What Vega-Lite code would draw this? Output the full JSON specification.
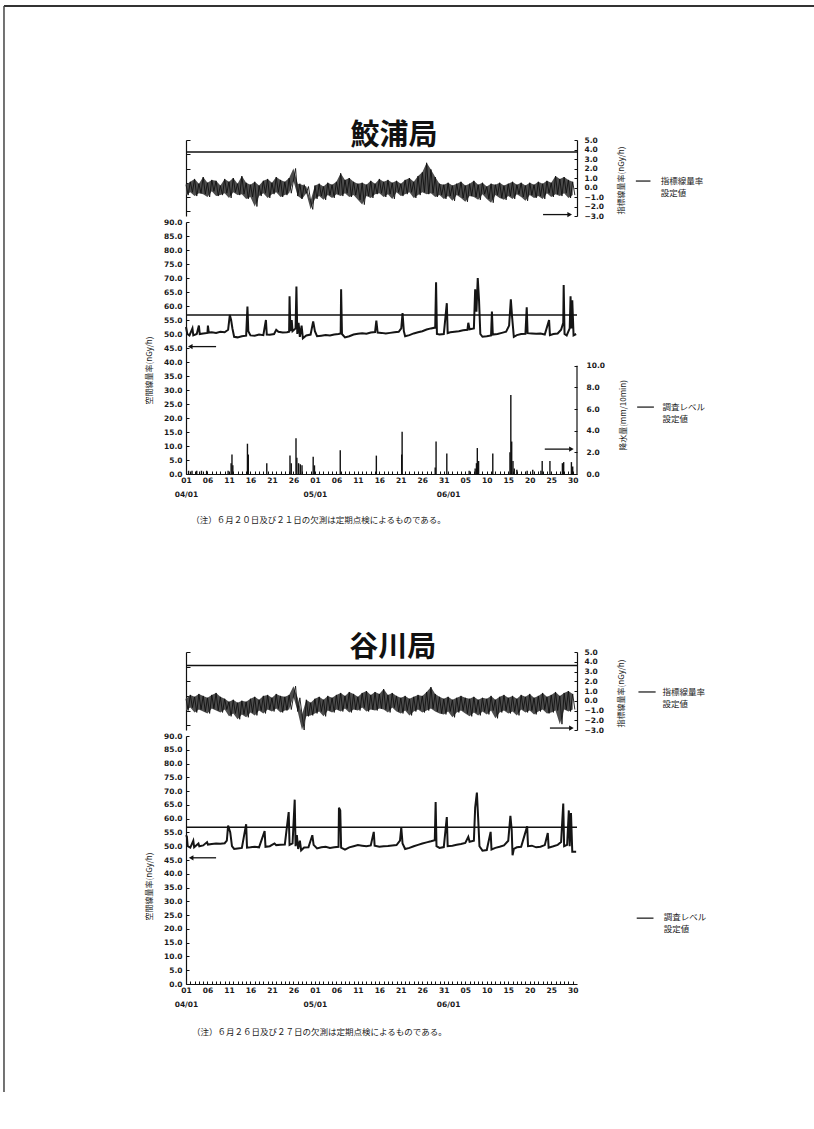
{
  "$schema": "https://vega.github.io/schema/vega-lite/v6.json",
  "background": "white",
  "padding": {"left": 2, "top": 5, "right": 0, "bottom": 0},
  "config": {
    "view": {"stroke": null},
    "axis": {"grid": false, "labelFlush": false, "domainColor": "#111", "tickColor": "#111", "labelColor": "#1a1a1a", "labelFont": "DejaVu Sans", "labelFontWeight": "bold", "labelFontSize": 7.5, "titleFont": "Noto Sans CJK JP", "titleFontSize": 8, "titleFontWeight": "normal", "titleColor": "#1a1a1a", "domainWidth": 1.2, "tickWidth": 1},
    "text": {"font": "Noto Sans CJK JP", "color": "#1a1a1a"}
  },
  "datasets": {
    "levels": [
      {"st": "鮫浦局", "idx": 3.74, "dose": 56.8},
      {"st": "谷川局", "idx": 3.62, "dose": 56.9}
    ],
    "s1_idx": [
      {"d":0,"v":0.3},{"d":0.5,"v":-0.8},{"d":1,"v":0.6},{"d":1.5,"v":-0.5},{"d":2,"v":0.9},{"d":2.5,"v":-0.9},{"d":3,"v":0.4},{"d":3.5,"v":-0.6},{"d":4,"v":1.1},{"d":4.5,"v":-0.7},
      {"d":5,"v":0.5},{"d":5.5,"v":-1.0},{"d":6,"v":0.8},{"d":6.5,"v":-0.4},{"d":7,"v":0.7},{"d":7.5,"v":-0.9},{"d":8,"v":0.2},{"d":8.5,"v":-0.8},{"d":9,"v":0.9},{"d":9.5,"v":-0.6},
      {"d":10,"v":0.6},{"d":10.5,"v":-1.1},{"d":11,"v":1.0},{"d":11.5,"v":-0.5},{"d":12,"v":0.4},{"d":12.5,"v":-0.8},{"d":13,"v":1.2},{"d":13.5,"v":-0.7},{"d":14,"v":0.5},{"d":14.5,"v":-1.2},
      {"d":15,"v":0.3},{"d":15.5,"v":-1.0},{"d":16,"v":0.6},{"d":16.5,"v":-2.0},{"d":17,"v":0.2},{"d":17.5,"v":-0.9},{"d":18,"v":0.7},{"d":18.5,"v":-0.6},{"d":19,"v":0.9},{"d":19.5,"v":-1.1},
      {"d":20,"v":0.5},{"d":20.5,"v":-0.7},{"d":21,"v":1.1},{"d":21.5,"v":-0.5},{"d":22,"v":0.8},{"d":22.5,"v":-1.0},{"d":23,"v":0.6},{"d":23.5,"v":-0.8},{"d":24,"v":1.0},{"d":24.5,"v":-0.6},
      {"d":25,"v":0.7},{"d":25.5,"v":2.0},{"d":26,"v":-0.9},{"d":26.5,"v":0.4},{"d":27,"v":-1.2},{"d":27.5,"v":0.3},{"d":28,"v":-0.6},{"d":28.5,"v":0.1},{"d":29,"v":-1.4},{"d":29.5,"v":-2.3},
      {"d":30,"v":0.2},{"d":30.5,"v":-1.2},{"d":31,"v":0.4},{"d":31.5,"v":-0.9},{"d":32,"v":0.1},{"d":32.5,"v":-1.3},{"d":33,"v":0.5},{"d":33.5,"v":-0.8},{"d":34,"v":0.3},{"d":34.5,"v":-1.1},
      {"d":35,"v":0.6},{"d":35.5,"v":-0.7},{"d":36,"v":1.5},{"d":36.5,"v":-0.9},{"d":37,"v":0.8},{"d":37.5,"v":-0.6},{"d":38,"v":1.0},{"d":38.5,"v":-1.0},{"d":39,"v":0.6},{"d":39.5,"v":-0.8},
      {"d":40,"v":0.4},{"d":40.5,"v":-1.3},{"d":41,"v":0.5},{"d":41.5,"v":-1.8},{"d":42,"v":0.3},{"d":42.5,"v":-0.9},{"d":43,"v":0.7},{"d":43.5,"v":-1.1},{"d":44,"v":0.4},{"d":44.5,"v":-0.7},
      {"d":45,"v":0.9},{"d":45.5,"v":-0.6},{"d":46,"v":0.6},{"d":46.5,"v":-1.0},{"d":47,"v":0.8},{"d":47.5,"v":-0.7},{"d":48,"v":0.5},{"d":48.5,"v":-1.2},{"d":49,"v":0.7},{"d":49.5,"v":-0.5},
      {"d":50,"v":0.4},{"d":50.5,"v":-0.9},{"d":51,"v":0.8},{"d":51.5,"v":-0.7},{"d":52,"v":1.0},{"d":52.5,"v":-0.5},{"d":53,"v":0.6},{"d":53.5,"v":-1.1},{"d":54,"v":1.2},{"d":54.5,"v":-0.8},
      {"d":55,"v":1.6},{"d":55.5,"v":-0.5},{"d":56,"v":2.6},{"d":56.5,"v":-0.7},{"d":57,"v":1.9},{"d":57.5,"v":-0.6},{"d":58,"v":1.1},{"d":58.5,"v":-1.0},{"d":59,"v":0.4},{"d":59.5,"v":-0.8},
      {"d":60,"v":0.3},{"d":60.5,"v":-1.2},{"d":61,"v":0.5},{"d":61.5,"v":-0.9},{"d":62,"v":0.2},{"d":62.5,"v":-1.4},{"d":63,"v":0.4},{"d":63.5,"v":-0.8},{"d":64,"v":0.6},{"d":64.5,"v":-1.1},
      {"d":65,"v":0.2},{"d":65.5,"v":-1.5},{"d":66,"v":0.4},{"d":66.5,"v":-0.9},{"d":67,"v":0.7},{"d":67.5,"v":-1.0},{"d":68,"v":0.3},{"d":68.5,"v":-1.3},{"d":69,"v":0.5},{"d":69.5,"v":-0.7},
      {"d":70,"v":0.1},{"d":70.5,"v":-1.2},{"d":71,"v":0.4},{"d":71.5,"v":-1.6},{"d":72,"v":0.3},{"d":72.5,"v":-0.8},{"d":73,"v":0.5},{"d":73.5,"v":-1.1},{"d":74,"v":0.2},{"d":74.5,"v":-1.3},
      {"d":75,"v":0.4},{"d":75.5,"v":-0.9},{"d":76,"v":0.6},{"d":76.5,"v":-1.2},{"d":77,"v":0.3},{"d":77.5,"v":-0.7},{"d":78,"v":0.5},{"d":78.5,"v":-1.0},{"d":79,"v":0.2},{"d":79.5,"v":-1.4},
      {"d":80,"v":0.5},{"d":80.5,"v":-0.8},{"d":81,"v":0.3},{"d":81.5,"v":-1.1},{"d":82,"v":0.6},{"d":82.5,"v":-0.9},{"d":83,"v":0.4},{"d":83.5,"v":-1.2},{"d":84,"v":0.7},{"d":84.5,"v":-0.6},
      {"d":85,"v":0.5},{"d":85.5,"v":-1.0},{"d":86,"v":1.2},{"d":86.5,"v":-0.7},{"d":87,"v":0.9},{"d":87.5,"v":-0.9},{"d":88,"v":1.1},{"d":88.5,"v":-0.6},{"d":89,"v":0.8},{"d":89.5,"v":-1.1},
      {"d":90,"v":0.6},{"d":90.5,"v":-0.8}
    ],
    "s2_idx": [
      {"d":0,"v":0.2},{"d":0.5,"v":-1.0},{"d":1,"v":0.6},{"d":1.5,"v":-0.7},{"d":2,"v":0.4},{"d":2.5,"v":-1.2},{"d":3,"v":0.7},{"d":3.5,"v":-0.9},{"d":4,"v":0.5},{"d":4.5,"v":-1.1},
      {"d":5,"v":0.3},{"d":5.5,"v":-1.3},{"d":6,"v":0.6},{"d":6.5,"v":-0.8},{"d":7,"v":0.8},{"d":7.5,"v":-1.0},{"d":8,"v":0.4},{"d":8.5,"v":-1.2},{"d":9,"v":0.2},{"d":9.5,"v":-0.9},
      {"d":10,"v":-0.1},{"d":10.5,"v":-1.6},{"d":11,"v":0.1},{"d":11.5,"v":-1.3},{"d":12,"v":-0.2},{"d":12.5,"v":-1.9},{"d":13,"v":0.0},{"d":13.5,"v":-1.4},{"d":14,"v":-0.1},{"d":14.5,"v":-1.7},
      {"d":15,"v":0.2},{"d":15.5,"v":-1.2},{"d":16,"v":0.4},{"d":16.5,"v":-1.5},{"d":17,"v":0.1},{"d":17.5,"v":-1.0},{"d":18,"v":0.5},{"d":18.5,"v":-1.3},{"d":19,"v":0.6},{"d":19.5,"v":-0.9},
      {"d":20,"v":0.3},{"d":20.5,"v":-1.1},{"d":21,"v":0.7},{"d":21.5,"v":-0.8},{"d":22,"v":0.5},{"d":22.5,"v":-1.2},{"d":23,"v":0.4},{"d":23.5,"v":-1.0},{"d":24,"v":0.6},{"d":24.5,"v":-0.9},
      {"d":25,"v":0.4},{"d":25.5,"v":1.5},{"d":26,"v":-1.1},{"d":26.5,"v":0.3},{"d":27,"v":-1.4},{"d":27.5,"v":-3.0},{"d":28,"v":0.1},{"d":28.5,"v":-1.6},{"d":29,"v":-0.2},{"d":29.5,"v":-1.5},
      {"d":30,"v":0.2},{"d":30.5,"v":-1.3},{"d":31,"v":0.4},{"d":31.5,"v":-1.1},{"d":32,"v":0.1},{"d":32.5,"v":-1.6},{"d":33,"v":0.5},{"d":33.5,"v":-1.0},{"d":34,"v":0.3},{"d":34.5,"v":-1.2},
      {"d":35,"v":0.6},{"d":35.5,"v":-0.9},{"d":36,"v":0.8},{"d":36.5,"v":-1.1},{"d":37,"v":0.5},{"d":37.5,"v":-0.8},{"d":38,"v":0.9},{"d":38.5,"v":-1.2},{"d":39,"v":0.7},{"d":39.5,"v":-0.9},
      {"d":40,"v":0.4},{"d":40.5,"v":-1.0},{"d":41,"v":0.8},{"d":41.5,"v":-0.7},{"d":42,"v":1.0},{"d":42.5,"v":-1.1},{"d":43,"v":0.6},{"d":43.5,"v":-0.9},{"d":44,"v":0.9},{"d":44.5,"v":-1.0},
      {"d":45,"v":0.7},{"d":45.5,"v":-0.8},{"d":46,"v":1.2},{"d":46.5,"v":-0.9},{"d":47,"v":0.6},{"d":47.5,"v":-1.2},{"d":48,"v":0.8},{"d":48.5,"v":-0.7},{"d":49,"v":0.5},{"d":49.5,"v":-1.1},
      {"d":50,"v":0.3},{"d":50.5,"v":-1.3},{"d":51,"v":0.5},{"d":51.5,"v":-1.0},{"d":52,"v":0.2},{"d":52.5,"v":-1.5},{"d":53,"v":0.4},{"d":53.5,"v":-1.1},{"d":54,"v":0.6},{"d":54.5,"v":-0.9},
      {"d":55,"v":0.5},{"d":55.5,"v":-1.2},{"d":56,"v":0.9},{"d":56.5,"v":-1.0},{"d":57,"v":1.4},{"d":57.5,"v":-0.8},{"d":58,"v":0.7},{"d":58.5,"v":-1.1},{"d":59,"v":0.4},{"d":59.5,"v":-1.3},
      {"d":60,"v":0.2},{"d":60.5,"v":-1.4},{"d":61,"v":0.4},{"d":61.5,"v":-1.1},{"d":62,"v":0.1},{"d":62.5,"v":-1.7},{"d":63,"v":0.3},{"d":63.5,"v":-1.2},{"d":64,"v":0.5},{"d":64.5,"v":-1.0},
      {"d":65,"v":0.3},{"d":65.5,"v":-1.3},{"d":66,"v":0.2},{"d":66.5,"v":-1.6},{"d":67,"v":0.4},{"d":67.5,"v":-1.2},{"d":68,"v":0.1},{"d":68.5,"v":-1.5},{"d":69,"v":0.3},{"d":69.5,"v":-1.1},
      {"d":70,"v":0.2},{"d":70.5,"v":-1.4},{"d":71,"v":0.5},{"d":71.5,"v":-1.0},{"d":72,"v":0.1},{"d":72.5,"v":-1.8},{"d":73,"v":0.4},{"d":73.5,"v":-1.2},{"d":74,"v":0.6},{"d":74.5,"v":-1.0},
      {"d":75,"v":0.3},{"d":75.5,"v":-1.3},{"d":76,"v":0.5},{"d":76.5,"v":-1.1},{"d":77,"v":0.2},{"d":77.5,"v":-1.5},{"d":78,"v":0.6},{"d":78.5,"v":-0.9},{"d":79,"v":0.4},{"d":79.5,"v":-1.2},
      {"d":80,"v":0.7},{"d":80.5,"v":-1.0},{"d":81,"v":0.3},{"d":81.5,"v":-1.4},{"d":82,"v":0.5},{"d":82.5,"v":-1.1},{"d":83,"v":0.8},{"d":83.5,"v":-0.9},{"d":84,"v":0.4},{"d":84.5,"v":-1.3},
      {"d":85,"v":0.6},{"d":85.5,"v":-1.2},{"d":86,"v":0.9},{"d":86.5,"v":-1.0},{"d":87,"v":0.5},{"d":87.5,"v":-2.4},{"d":88,"v":0.8},{"d":88.5,"v":-0.9},{"d":89,"v":1.0},{"d":89.5,"v":-1.1},
      {"d":90,"v":0.7},{"d":90.5,"v":-0.9}
    ],
    "s1_dose": [
      {"d":0,"v":52.5},{"d":0.3,"v":50},{"d":0.8,"v":49.5},{"d":1.5,"v":52},{"d":1.7,"v":49.5},{"d":2.5,"v":50},{"d":3,"v":53},{"d":3.2,"v":50},{"d":4,"v":50.2},{"d":5,"v":50.4},{"d":5.1,"v":53},{"d":5.3,"v":50.5},{"d":6,"v":50.6},{"d":7,"v":50.4},{"d":8,"v":50.8},{"d":9,"v":50.6},{"d":9.8,"v":51.5},{"d":10.2,"v":56.8},{"d":10.5,"v":55},{"d":10.8,"v":52},{"d":11.2,"v":49},{"d":12,"v":48.8},{"d":13,"v":49.2},{"d":14,"v":49.4},{"d":14.3,"v":59.8},{"d":14.5,"v":51},{"d":15,"v":49.5},{"d":16,"v":49.4},{"d":17,"v":49.8},{"d":18,"v":49.6},{"d":18.6,"v":55},{"d":18.8,"v":49.8},{"d":19.5,"v":49.7},{"d":20.5,"v":50},{"d":21,"v":51.5},{"d":21.5,"v":50.8},{"d":22.5,"v":50.5},{"d":23.5,"v":50.6},{"d":24,"v":50.8},{"d":24.1,"v":63.5},{"d":24.3,"v":51},{"d":24.6,"v":55},{"d":24.8,"v":51},{"d":25.5,"v":52},{"d":25.7,"v":67},{"d":25.9,"v":50},{"d":26.2,"v":54},{"d":26.5,"v":49},{"d":26.9,"v":53},{"d":27.2,"v":48.5},{"d":28,"v":49.5},{"d":29,"v":49.8},{"d":29.6,"v":54.5},{"d":30,"v":51},{"d":30.5,"v":49.2},{"d":31.5,"v":49.4},{"d":32.5,"v":49.6},{"d":33.5,"v":49.5},{"d":34.5,"v":49.8},{"d":35.5,"v":50},{"d":36,"v":50.2},{"d":36.1,"v":66},{"d":36.3,"v":50},{"d":37,"v":48.8},{"d":38,"v":49.2},{"d":39,"v":49.8},{"d":40,"v":50.1},{"d":41,"v":50.3},{"d":42,"v":50.1},{"d":43,"v":50.5},{"d":44,"v":50.7},{"d":44.3,"v":54.8},{"d":44.6,"v":50.5},{"d":45.5,"v":50.4},{"d":46.5,"v":50.2},{"d":47.5,"v":50.4},{"d":48.5,"v":50.6},{"d":49.5,"v":50.8},{"d":50.1,"v":52},{"d":50.4,"v":57.5},{"d":50.7,"v":51},{"d":51,"v":49.2},{"d":52,"v":49.6},{"d":53,"v":50.2},{"d":54,"v":50.6},{"d":55,"v":51},{"d":56,"v":51.6},{"d":57,"v":52},{"d":58,"v":52.3},{"d":58.2,"v":68.5},{"d":58.4,"v":50},{"d":59,"v":49.8},{"d":60,"v":50},{"d":60.7,"v":61},{"d":60.9,"v":50.3},{"d":61.5,"v":50.6},{"d":62.5,"v":50.8},{"d":63.5,"v":51},{"d":64.5,"v":51.3},{"d":65.5,"v":51.5},{"d":65.7,"v":54},{"d":66,"v":51.7},{"d":67,"v":52},{"d":67.3,"v":66},{"d":67.6,"v":58},{"d":67.9,"v":70},{"d":68.2,"v":62},{"d":68.5,"v":50},{"d":69,"v":49},{"d":70,"v":49.2},{"d":71,"v":49.5},{"d":71.2,"v":58},{"d":71.4,"v":49.8},{"d":72.5,"v":50},{"d":73.5,"v":50.4},{"d":74.5,"v":50.8},{"d":75.2,"v":53},{"d":75.6,"v":62.4},{"d":75.9,"v":56},{"d":76.3,"v":49},{"d":77,"v":49.6},{"d":78,"v":50},{"d":79,"v":50.1},{"d":79.3,"v":59.5},{"d":79.5,"v":50.3},{"d":80.5,"v":50.2},{"d":81.5,"v":50.1},{"d":82.5,"v":50.2},{"d":83.5,"v":49.8},{"d":84.5,"v":55},{"d":84.7,"v":49.6},{"d":85.5,"v":50},{"d":86.5,"v":50.2},{"d":87.3,"v":51.5},{"d":87.8,"v":54},{"d":87.9,"v":67.5},{"d":88.1,"v":50},{"d":88.6,"v":49.5},{"d":89.3,"v":52},{"d":89.5,"v":63.5},{"d":89.7,"v":52},{"d":89.9,"v":62},{"d":90.2,"v":49.5},{"d":90.8,"v":50}
    ],
    "s2_dose": [
      {"d":0,"v":54},{"d":0.2,"v":53.5},{"d":0.4,"v":50},{"d":1,"v":49.5},{"d":1.7,"v":52},{"d":1.9,"v":49.6},{"d":2.9,"v":51},{"d":3.1,"v":50},{"d":4,"v":50.3},{"d":4.9,"v":51.5},{"d":5.1,"v":50.6},{"d":6,"v":50.8},{"d":7,"v":51},{"d":8,"v":50.9},{"d":9,"v":51.1},{"d":9.5,"v":52},{"d":9.8,"v":57.5},{"d":10.3,"v":55},{"d":10.7,"v":50},{"d":11.2,"v":49},{"d":12,"v":49.2},{"d":13,"v":49.4},{"d":14,"v":58},{"d":14.2,"v":49.5},{"d":15,"v":49.6},{"d":16,"v":49.8},{"d":17,"v":49.6},{"d":18.3,"v":55.5},{"d":18.5,"v":49.8},{"d":19.5,"v":50},{"d":20.6,"v":51},{"d":21,"v":50.4},{"d":22,"v":50.5},{"d":23,"v":50.6},{"d":23.9,"v":62.4},{"d":24.1,"v":50.5},{"d":24.8,"v":51},{"d":25.3,"v":66.9},{"d":25.5,"v":50},{"d":25.8,"v":54},{"d":26.1,"v":49},{"d":26.5,"v":52},{"d":26.8,"v":48.5},{"d":27.5,"v":49.5},{"d":28.5,"v":49.6},{"d":29.4,"v":54},{"d":29.7,"v":50.5},{"d":30.5,"v":49.2},{"d":31.5,"v":49.6},{"d":32.5,"v":49.8},{"d":33.5,"v":49.4},{"d":34.5,"v":49.6},{"d":35.5,"v":49.8},{"d":35.6,"v":64},{"d":35.9,"v":63},{"d":36.1,"v":49.5},{"d":37,"v":48.8},{"d":38,"v":49.6},{"d":39,"v":50},{"d":40,"v":50.4},{"d":41,"v":50.2},{"d":42,"v":50},{"d":43,"v":50.3},{"d":43.7,"v":55.2},{"d":43.9,"v":50.2},{"d":45,"v":49.8},{"d":46,"v":50},{"d":47,"v":50.1},{"d":48,"v":50.3},{"d":49,"v":50.4},{"d":49.8,"v":52},{"d":50.1,"v":56.8},{"d":50.4,"v":51},{"d":51,"v":49},{"d":52,"v":49.4},{"d":53,"v":50},{"d":54,"v":50.5},{"d":55,"v":51},{"d":56,"v":51.4},{"d":57,"v":51.8},{"d":57.9,"v":52.2},{"d":58.1,"v":66},{"d":58.3,"v":50},{"d":59,"v":49.4},{"d":60,"v":49.7},{"d":60.7,"v":60.6},{"d":60.9,"v":50},{"d":62,"v":50.2},{"d":63,"v":50.5},{"d":64,"v":50.8},{"d":65,"v":51.2},{"d":65.7,"v":53.4},{"d":66,"v":51.6},{"d":67,"v":52},{"d":67.3,"v":64},{"d":67.7,"v":69.5},{"d":68,"v":60},{"d":68.3,"v":50},{"d":69,"v":48.4},{"d":70,"v":48.6},{"d":70.9,"v":55.2},{"d":71.1,"v":48.8},{"d":72,"v":49.4},{"d":73,"v":49.8},{"d":74,"v":50.3},{"d":75,"v":52},{"d":75.5,"v":61},{"d":75.8,"v":56},{"d":76,"v":46.7},{"d":76.3,"v":49},{"d":77,"v":49.6},{"d":78,"v":49.8},{"d":79.4,"v":57.2},{"d":79.6,"v":50},{"d":80.5,"v":50.2},{"d":81.5,"v":49.6},{"d":82.5,"v":49.8},{"d":83.5,"v":50.4},{"d":84.2,"v":54.8},{"d":84.4,"v":49.5},{"d":85.5,"v":50},{"d":86.5,"v":50.5},{"d":87.3,"v":51.5},{"d":87.8,"v":65.5},{"d":88,"v":50},{"d":88.7,"v":50.5},{"d":89.1,"v":63},{"d":89.3,"v":50},{"d":89.6,"v":62},{"d":89.9,"v":48},{"d":90.8,"v":48}
    ],
    "s1_rain": [
      {"d":0.6,"r":0.3},{"d":1.4,"r":0.3},{"d":2.5,"r":0.3},{"d":3.6,"r":0.3},{"d":4.8,"r":0.3},{"d":9.8,"r":0.3},{"d":10.5,"r":1.0},{"d":10.7,"r":1.8},{"d":10.9,"r":0.8},{"d":14.3,"r":2.8},{"d":14.5,"r":1.8},{"d":18.8,"r":1.0},{"d":24.2,"r":1.7},{"d":24.5,"r":1.0},{"d":25.6,"r":3.3},{"d":25.8,"r":1.5},{"d":26.2,"r":1.0},{"d":26.6,"r":0.9},{"d":27.0,"r":0.8},{"d":29.6,"r":1.6},{"d":29.9,"r":0.8},{"d":35.9,"r":2.2},{"d":44.3,"r":1.7},{"d":50.2,"r":1.8},{"d":50.3,"r":3.9},{"d":58.0,"r":0.6},{"d":58.2,"r":3.0},{"d":60.7,"r":1.9},{"d":65.9,"r":0.3},{"d":67.3,"r":0.5},{"d":67.6,"r":1.0},{"d":67.8,"r":2.4},{"d":68.1,"r":1.2},{"d":71.4,"r":1.9},{"d":75.4,"r":2.0},{"d":75.6,"r":7.3},{"d":75.8,"r":3.0},{"d":76.1,"r":1.2},{"d":76.4,"r":0.5},{"d":77.0,"r":0.4},{"d":79.4,"r":0.3},{"d":80.7,"r":0.4},{"d":82.6,"r":0.3},{"d":82.9,"r":1.2},{"d":84.7,"r":1.2},{"d":87.6,"r":1.0},{"d":87.9,"r":1.1},{"d":89.7,"r":1.1},{"d":90.0,"r":0.7}
    ]
  },
  "spacing": 6,
  "bounds": "flush",
  "vconcat": [
    {
      "width": 391,
      "height": 76,
      "resolve": {"axis": {"x": "independent", "y": "independent"}},
      "layer": [
        {
          "data": {"name": "s1_idx"},
          "transform": [
            {"bin": {"step": 1}, "field": "d", "as": "day"},
            {"aggregate": [{"op": "min", "field": "v", "as": "lo"}, {"op": "max", "field": "v", "as": "hi"}], "groupby": ["day"]}
          ],
          "mark": {"type": "area", "color": "#4d4d4d", "opacity": 1},
          "encoding": {
            "x": {"field": "day", "type": "quantitative", "scale": {"domain": [0, 91], "nice": false, "zero": false}, "axis": null},
            "y": {"field": "lo", "type": "quantitative", "scale": {"domain": [-3, 5], "nice": false, "zero": false}, "axis": null},
            "y2": {"field": "hi"}
          }
        },
        {
          "data": {"name": "s1_idx"},
          "mark": {"type": "line", "stroke": "#111", "strokeWidth": 0.9},
          "encoding": {
            "x": {"field": "d", "type": "quantitative", "scale": {"domain": [0, 91], "nice": false, "zero": false}, "axis": null},
            "y": {"field": "v", "type": "quantitative", "scale": {"domain": [-3, 5], "nice": false, "zero": false},
              "axis": {"orient": "right", "values": [-3, -2, -1, 0, 1, 2, 3, 4, 5], "format": ".1f", "tickSize": -3, "labelPadding": 10, "title": "指標線量率(nGy/h)", "titleAngle": 270, "titleAlign": "center", "titleBaseline": "middle", "titleX": 44, "titleY": 40}}
          }
        },
        {
          "data": {"name": "levels"},
          "transform": [{"filter": "datum.st == '鮫浦局'"}],
          "mark": {"type": "rule", "stroke": "#111", "strokeWidth": 1.5},
          "encoding": {
            "y": {"field": "idx", "type": "quantitative", "scale": {"domain": [-3, 5], "nice": false, "zero": false},
              "axis": {"orient": "left", "values": [-2.5, -1, 0.5, 2, 3.5, 5], "labels": false, "tickSize": -4, "title": null}}
          }
        },
        {
          "data": {"name": "levels"},
          "transform": [{"filter": "datum.st == '鮫浦局'"}],
          "mark": {"type": "text", "font": "Noto Sans CJK JP", "fontSize": 29, "fontWeight": "bold", "baseline": "bottom", "dy": -1, "color": "#111"},
          "encoding": {
            "x": {"datum": 48.4, "scale": {"domain": [0, 91], "nice": false, "zero": false}, "axis": null},
            "y": {"field": "idx", "type": "quantitative", "scale": {"domain": [-3, 5], "nice": false, "zero": false}, "axis": null},
            "text": {"field": "st"}
          }
        },
        {
          "data": {"values": [{}]},
          "mark": {"type": "rule", "stroke": "#111", "strokeWidth": 1.3},
          "encoding": {
            "x": {"datum": 83.1, "scale": {"domain": [0, 91], "nice": false, "zero": false}, "axis": null},
            "x2": {"datum": 88.9},
            "y": {"datum": -2.85, "scale": {"domain": [-3, 5], "nice": false, "zero": false}, "axis": null}
          }
        },
        {
          "data": {"values": [{}]},
          "mark": {"type": "point", "shape": "triangle-right", "size": 28, "filled": true, "color": "#111", "opacity": 1},
          "encoding": {
            "x": {"datum": 89.3, "scale": {"domain": [0, 91], "nice": false, "zero": false}, "axis": null},
            "y": {"datum": -2.85, "scale": {"domain": [-3, 5], "nice": false, "zero": false}, "axis": null}
          }
        },
        {
          "data": {"values": [{}]},
          "mark": {"type": "rule", "stroke": "#111", "strokeWidth": 1.2},
          "encoding": {
            "x": {"datum": 104.7, "scale": {"domain": [0, 91], "nice": false, "zero": false}, "axis": null},
            "x2": {"datum": 108.1},
            "y": {"datum": 0.68, "scale": {"domain": [-3, 5], "nice": false, "zero": false}, "axis": null}
          }
        },
        {
          "data": {"values": [{}]},
          "mark": {"type": "text", "align": "left", "baseline": "top", "fontSize": 8.5, "lineHeight": 12},
          "encoding": {
            "x": {"datum": 110.5, "scale": {"domain": [0, 91], "nice": false, "zero": false}, "axis": null},
            "y": {"datum": 1.1, "scale": {"domain": [-3, 5], "nice": false, "zero": false}, "axis": null},
            "text": {"value": ["指標線量率", "設定値"]}
          }
        },
        {
          "data": {"values": [{}]},
          "mark": {"type": "rule", "stroke": "#333", "strokeWidth": 2},
          "encoding": {
            "x": {"datum": -42.36, "scale": {"domain": [0, 91], "nice": false, "zero": false}, "axis": null},
            "x2": {"datum": 146.4},
            "y": {"datum": 19.1, "scale": {"domain": [-3, 5], "nice": false, "zero": false}, "axis": null}
          }
        },
        {
          "data": {"values": [{}]},
          "mark": {"type": "rule", "stroke": "#444", "strokeWidth": 1.5},
          "encoding": {
            "x": {"datum": -42.36, "scale": {"domain": [0, 91], "nice": false, "zero": false}, "axis": null},
            "y": {"datum": 19.1, "scale": {"domain": [-3, 5], "nice": false, "zero": false}, "axis": null},
            "y2": {"datum": -95.2}
          }
        }
      ]
    },
    {
      "width": 391,
      "height": 252,
      "resolve": {"scale": {"y": "independent"}, "axis": {"x": "independent", "y": "independent"}},
      "layer": [
        {
          "resolve": {"axis": {"x": "independent", "y": "independent"}},
          "layer": [
            {
              "data": {"name": "s1_dose"},
              "mark": {"type": "line", "stroke": "#151515", "strokeWidth": 2},
              "encoding": {
                "x": {"field": "d", "type": "quantitative", "scale": {"domain": [0, 91], "nice": false, "zero": false},
                  "axis": {"orient": "bottom", "values": [0,1,2,3,4,5,6,7,8,9,10,11,12,13,14,15,16,17,18,19,20,21,22,23,24,25,26,27,28,29,30,31,32,33,34,35,36,37,38,39,40,41,42,43,44,45,46,47,48,49,50,51,52,53,54,55,56,57,58,59,60,61,62,63,64,65,66,67,68,69,70,71,72,73,74,75,76,77,78,79,80,81,82,83,84,85,86,87,88,89,90],
                    "labelExpr": "datum.value % 5 == 0 ? [['01','06','11','16','21','26','01','06','11','16','21','26','31','05','10','15','20','25','30'][datum.value / 5], datum.value == 0 ? '04/01' : (datum.value == 30 ? '05/01' : '')] : (datum.value == 61 ? ['', '06/01'] : '')",
                    "tickSize": -3, "labelPadding": 5, "labelLineHeight": 14, "labelOverlap": false, "labelBaseline": "top", "title": null}},
                "y": {"field": "v", "type": "quantitative", "scale": {"domain": [0, 90], "nice": false, "zero": false},
                  "axis": {"orient": "left", "values": [0,5,10,15,20,25,30,35,40,45,50,55,60,65,70,75,80,85,90], "format": ".1f", "tickSize": -3, "labelPadding": 7, "title": "空間線量率(nGy/h)", "titleAngle": 270, "titleAlign": "center", "titleBaseline": "middle", "titleX": -37, "titleY": 148}}
              }
            },
            {
              "data": {"name": "levels"},
              "transform": [{"filter": "datum.st == '鮫浦局'"}],
              "mark": {"type": "rule", "stroke": "#111", "strokeWidth": 1.5},
              "encoding": {
                "y": {"field": "dose", "type": "quantitative", "scale": {"domain": [0, 90], "nice": false, "zero": false}, "axis": null}
              }
            },
            {
              "data": {"values": [{}]},
              "mark": {"type": "rule", "stroke": "#111", "strokeWidth": 1.2},
              "encoding": {
                "x": {"datum": 105.0, "scale": {"domain": [0, 91], "nice": false, "zero": false}, "axis": null},
                "x2": {"datum": 108.9},
                "y": {"datum": 23.9, "scale": {"domain": [0, 90], "nice": false, "zero": false}, "axis": null}
              }
            },
            {
              "data": {"values": [{}]},
              "mark": {"type": "text", "align": "left", "baseline": "top", "fontSize": 8.5, "lineHeight": 12},
              "encoding": {
                "x": {"datum": 110.9, "scale": {"domain": [0, 91], "nice": false, "zero": false}, "axis": null},
                "y": {"datum": 25.5, "scale": {"domain": [0, 90], "nice": false, "zero": false}, "axis": null},
                "text": {"value": ["調査レベル", "設定値"]}
              }
            },
            {
              "data": {"values": [{}]},
              "mark": {"type": "rule", "stroke": "#111", "strokeWidth": 1.3},
              "encoding": {
                "x": {"datum": 1.4, "scale": {"domain": [0, 91], "nice": false, "zero": false}, "axis": null},
                "x2": {"datum": 7.0},
                "y": {"datum": 45.5, "scale": {"domain": [0, 90], "nice": false, "zero": false}, "axis": null}
              }
            },
            {
              "data": {"values": [{}]},
              "mark": {"type": "point", "shape": "triangle-left", "size": 28, "filled": true, "color": "#111", "opacity": 1},
              "encoding": {
                "x": {"datum": 1.0, "scale": {"domain": [0, 91], "nice": false, "zero": false}, "axis": null},
                "y": {"datum": 45.5, "scale": {"domain": [0, 90], "nice": false, "zero": false}, "axis": null}
              }
            },
            {
              "data": {"values": [{}]},
              "mark": {"type": "text", "align": "left", "baseline": "middle", "fontSize": 8.5},
              "encoding": {
                "x": {"datum": 1.2, "scale": {"domain": [0, 91], "nice": false, "zero": false}, "axis": null},
                "y": {"datum": -16.5, "scale": {"domain": [0, 90], "nice": false, "zero": false}, "axis": null},
                "text": {"value": "（注）６月２０日及び２１日の欠測は定期点検によるものである。"}
              }
            }
          ]
        },
        {
          "resolve": {"axis": {"x": "independent", "y": "independent"}},
          "layer": [
            {
              "data": {"name": "s1_rain"},
              "mark": {"type": "rule", "stroke": "#111", "strokeWidth": 1.4},
              "encoding": {
                "x": {"field": "d", "type": "quantitative", "scale": {"domain": [0, 91], "nice": false, "zero": false}, "axis": null},
                "y": {"field": "r", "type": "quantitative", "scale": {"domain": [0, 23.3], "nice": false, "zero": true},
                  "axis": {"orient": "right", "values": [0, 2, 4, 6, 8, 10], "format": ".1f", "tickSize": -3, "labelPadding": 12, "domain": false, "title": "降水量(mm/10min)", "titleAngle": 270, "titleAlign": "center", "titleBaseline": "middle", "titleX": 46, "titleY": 193}},
                "y2": {"datum": 0}
              }
            },
            {
              "data": {"values": [{}]},
              "mark": {"type": "rule", "stroke": "#111", "strokeWidth": 1.2},
              "encoding": {
                "x": {"datum": 91, "scale": {"domain": [0, 91], "nice": false, "zero": false}, "axis": null},
                "y": {"datum": 0, "scale": {"domain": [0, 23.3], "nice": false, "zero": true}, "axis": null},
                "y2": {"datum": 10}
              }
            },
            {
              "data": {"values": [{}]},
              "mark": {"type": "rule", "stroke": "#111", "strokeWidth": 1.3},
              "encoding": {
                "x": {"datum": 83.5, "scale": {"domain": [0, 91], "nice": false, "zero": false}, "axis": null},
                "x2": {"datum": 89.3},
                "y": {"datum": 2.3, "scale": {"domain": [0, 23.3], "nice": false, "zero": true}, "axis": null}
              }
            },
            {
              "data": {"values": [{}]},
              "mark": {"type": "point", "shape": "triangle-right", "size": 28, "filled": true, "color": "#111", "opacity": 1},
              "encoding": {
                "x": {"datum": 89.7, "scale": {"domain": [0, 91], "nice": false, "zero": false}, "axis": null},
                "y": {"datum": 2.3, "scale": {"domain": [0, 23.3], "nice": false, "zero": true}, "axis": null}
              }
            }
          ]
        }
      ]
    },
    {
      "width": 391,
      "height": 166,
      "data": {"values": []},
      "mark": {"type": "point"},
      "encoding": {}
    },
    {
      "width": 391,
      "height": 78,
      "resolve": {"axis": {"x": "independent", "y": "independent"}},
      "layer": [
        {
          "data": {"name": "s2_idx"},
          "transform": [
            {"bin": {"step": 1}, "field": "d", "as": "day"},
            {"aggregate": [{"op": "min", "field": "v", "as": "lo"}, {"op": "max", "field": "v", "as": "hi"}], "groupby": ["day"]}
          ],
          "mark": {"type": "area", "color": "#4d4d4d", "opacity": 1},
          "encoding": {
            "x": {"field": "day", "type": "quantitative", "scale": {"domain": [0, 91], "nice": false, "zero": false}, "axis": null},
            "y": {"field": "lo", "type": "quantitative", "scale": {"domain": [-3, 5], "nice": false, "zero": false}, "axis": null},
            "y2": {"field": "hi"}
          }
        },
        {
          "data": {"name": "s2_idx"},
          "mark": {"type": "line", "stroke": "#111", "strokeWidth": 0.9},
          "encoding": {
            "x": {"field": "d", "type": "quantitative", "scale": {"domain": [0, 91], "nice": false, "zero": false}, "axis": null},
            "y": {"field": "v", "type": "quantitative", "scale": {"domain": [-3, 5], "nice": false, "zero": false},
              "axis": {"orient": "right", "values": [-3, -2, -1, 0, 1, 2, 3, 4, 5], "format": ".1f", "tickSize": -3, "labelPadding": 10, "title": "指標線量率(nGy/h)", "titleAngle": 270, "titleAlign": "center", "titleBaseline": "middle", "titleX": 44, "titleY": 41}}
          }
        },
        {
          "data": {"name": "levels"},
          "transform": [{"filter": "datum.st == '谷川局'"}],
          "mark": {"type": "rule", "stroke": "#111", "strokeWidth": 1.5},
          "encoding": {
            "y": {"field": "idx", "type": "quantitative", "scale": {"domain": [-3, 5], "nice": false, "zero": false},
              "axis": {"orient": "left", "values": [-2.5, -1, 0.5, 2, 3.5, 5], "labels": false, "tickSize": -4, "title": null}}
          }
        },
        {
          "data": {"name": "levels"},
          "transform": [{"filter": "datum.st == '谷川局'"}],
          "mark": {"type": "text", "font": "Noto Sans CJK JP", "fontSize": 29, "fontWeight": "bold", "baseline": "bottom", "dy": -2, "color": "#111"},
          "encoding": {
            "x": {"datum": 48.1, "scale": {"domain": [0, 91], "nice": false, "zero": false}, "axis": null},
            "y": {"field": "idx", "type": "quantitative", "scale": {"domain": [-3, 5], "nice": false, "zero": false}, "axis": null},
            "text": {"field": "st"}
          }
        },
        {
          "data": {"values": [{}]},
          "mark": {"type": "rule", "stroke": "#111", "strokeWidth": 1.3},
          "encoding": {
            "x": {"datum": 84.7, "scale": {"domain": [0, 91], "nice": false, "zero": false}, "axis": null},
            "x2": {"datum": 89.3},
            "y": {"datum": -2.8, "scale": {"domain": [-3, 5], "nice": false, "zero": false}, "axis": null}
          }
        },
        {
          "data": {"values": [{}]},
          "mark": {"type": "point", "shape": "triangle-right", "size": 28, "filled": true, "color": "#111", "opacity": 1},
          "encoding": {
            "x": {"datum": 89.7, "scale": {"domain": [0, 91], "nice": false, "zero": false}, "axis": null},
            "y": {"datum": -2.8, "scale": {"domain": [-3, 5], "nice": false, "zero": false}, "axis": null}
          }
        },
        {
          "data": {"values": [{}]},
          "mark": {"type": "rule", "stroke": "#111", "strokeWidth": 1.2},
          "encoding": {
            "x": {"datum": 105.3, "scale": {"domain": [0, 91], "nice": false, "zero": false}, "axis": null},
            "x2": {"datum": 109.3},
            "y": {"datum": 0.9, "scale": {"domain": [-3, 5], "nice": false, "zero": false}, "axis": null}
          }
        },
        {
          "data": {"values": [{}]},
          "mark": {"type": "text", "align": "left", "baseline": "top", "fontSize": 8.5, "lineHeight": 12},
          "encoding": {
            "x": {"datum": 110.9, "scale": {"domain": [0, 91], "nice": false, "zero": false}, "axis": null},
            "y": {"datum": 1.3, "scale": {"domain": [-3, 5], "nice": false, "zero": false}, "axis": null},
            "text": {"value": ["指標線量率", "設定値"]}
          }
        }
      ]
    },
    {
      "width": 391,
      "height": 248,
      "resolve": {"axis": {"x": "independent", "y": "independent"}},
      "layer": [
        {
          "data": {"name": "s2_dose"},
          "mark": {"type": "line", "stroke": "#151515", "strokeWidth": 2},
          "encoding": {
            "x": {"field": "d", "type": "quantitative", "scale": {"domain": [0, 91], "nice": false, "zero": false},
              "axis": {"orient": "bottom", "values": [0,1,2,3,4,5,6,7,8,9,10,11,12,13,14,15,16,17,18,19,20,21,22,23,24,25,26,27,28,29,30,31,32,33,34,35,36,37,38,39,40,41,42,43,44,45,46,47,48,49,50,51,52,53,54,55,56,57,58,59,60,61,62,63,64,65,66,67,68,69,70,71,72,73,74,75,76,77,78,79,80,81,82,83,84,85,86,87,88,89,90],
                "labelExpr": "datum.value % 5 == 0 ? [['01','06','11','16','21','26','01','06','11','16','21','26','31','05','10','15','20','25','30'][datum.value / 5], datum.value == 0 ? '04/01' : (datum.value == 30 ? '05/01' : '')] : (datum.value == 61 ? ['', '06/01'] : '')",
                "tickSize": -3, "labelPadding": 5, "labelLineHeight": 14, "labelOverlap": false, "labelBaseline": "top", "title": null}},
            "y": {"field": "v", "type": "quantitative", "scale": {"domain": [0, 90], "nice": false, "zero": false},
              "axis": {"orient": "left", "values": [0,5,10,15,20,25,30,35,40,45,50,55,60,65,70,75,80,85,90], "format": ".1f", "tickSize": -3, "labelPadding": 7, "title": "空間線量率(nGy/h)", "titleAngle": 270, "titleAlign": "center", "titleBaseline": "middle", "titleX": -37, "titleY": 150}}
          }
        },
        {
          "data": {"name": "levels"},
          "transform": [{"filter": "datum.st == '谷川局'"}],
          "mark": {"type": "rule", "stroke": "#111", "strokeWidth": 1.5},
          "encoding": {
            "y": {"field": "dose", "type": "quantitative", "scale": {"domain": [0, 90], "nice": false, "zero": false}, "axis": null}
          }
        },
        {
          "data": {"values": [{}]},
          "mark": {"type": "rule", "stroke": "#111", "strokeWidth": 1.2},
          "encoding": {
            "x": {"datum": 104.9, "scale": {"domain": [0, 91], "nice": false, "zero": false}, "axis": null},
            "x2": {"datum": 108.8},
            "y": {"datum": 23.9, "scale": {"domain": [0, 90], "nice": false, "zero": false}, "axis": null}
          }
        },
        {
          "data": {"values": [{}]},
          "mark": {"type": "text", "align": "left", "baseline": "top", "fontSize": 8.5, "lineHeight": 12},
          "encoding": {
            "x": {"datum": 111.2, "scale": {"domain": [0, 91], "nice": false, "zero": false}, "axis": null},
            "y": {"datum": 25.6, "scale": {"domain": [0, 90], "nice": false, "zero": false}, "axis": null},
            "text": {"value": ["調査レベル", "設定値"]}
          }
        },
        {
          "data": {"values": [{}]},
          "mark": {"type": "rule", "stroke": "#111", "strokeWidth": 1.3},
          "encoding": {
            "x": {"datum": 1.6, "scale": {"domain": [0, 91], "nice": false, "zero": false}, "axis": null},
            "x2": {"datum": 7.0},
            "y": {"datum": 45.8, "scale": {"domain": [0, 90], "nice": false, "zero": false}, "axis": null}
          }
        },
        {
          "data": {"values": [{}]},
          "mark": {"type": "point", "shape": "triangle-left", "size": 28, "filled": true, "color": "#111", "opacity": 1},
          "encoding": {
            "x": {"datum": 1.2, "scale": {"domain": [0, 91], "nice": false, "zero": false}, "axis": null},
            "y": {"datum": 45.8, "scale": {"domain": [0, 90], "nice": false, "zero": false}, "axis": null}
          }
        },
        {
          "data": {"values": [{}]},
          "mark": {"type": "text", "align": "left", "baseline": "middle", "fontSize": 8.5},
          "encoding": {
            "x": {"datum": 1.4, "scale": {"domain": [0, 91], "nice": false, "zero": false}, "axis": null},
            "y": {"datum": -17.4, "scale": {"domain": [0, 90], "nice": false, "zero": false}, "axis": null},
            "text": {"value": "（注）６月２６日及び２７日の欠測は定期点検によるものである。"}
          }
        }
      ]
    }
  ]
}
